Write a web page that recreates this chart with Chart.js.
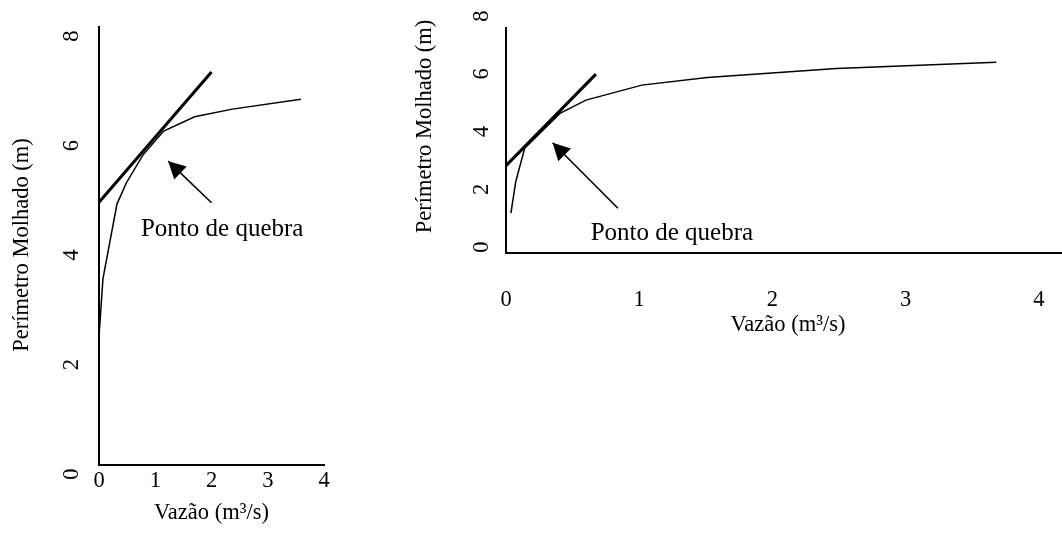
<!DOCTYPE html>
<html>
<head>
<meta charset="utf-8">
<script src="https://cdn.jsdelivr.net/npm/chart.js@4"></script>
<style>
  body { margin: 0; background: #fff; width: 1062px; height: 538px; overflow: hidden; position: relative; }
  canvas { position: absolute; }
  #left { left: 0; top: 0; }
  #right { left: 400px; top: 0; }
</style>
</head>
<body>
<canvas id="left" width="360" height="538"></canvas>
<canvas id="right" width="662" height="340"></canvas>
<script>
// left chart: vazao (m3/s) x perimetro molhado (m)
var leftQ = [0.0, 0.07, 0.32, 0.49, 0.78, 1.15, 1.7, 2.37, 3.59];
var leftP = [2.35, 3.4, 4.77, 5.16, 5.66, 6.1, 6.36, 6.5, 6.68];
var leftTanQ = [0.0, 2.0];
var leftTanP = [4.8, 7.18];
var leftArrowQ = [2.0, 1.23];
var leftArrowP = [4.79, 5.55];
var leftNote = { x: 2.19, y: 4.3 };

// right chart
var rightQ = [0.037, 0.073, 0.14, 0.405, 0.6, 1.02, 1.51, 2.48, 3.68];
var rightP = [1.38, 2.47, 3.63, 4.84, 5.3, 5.82, 6.08, 6.4, 6.61];
var rightTanQ = [0.0, 0.675];
var rightTanP = [3.03, 6.2];
var rightArrowQ = [0.84, 0.35];
var rightArrowP = [1.55, 3.82];
var rightNote = { x: 1.245, y: 0.69 };

var xTicks = [0, 1, 2, 3, 4];
var yTicks = [0, 2, 4, 6, 8];
var noteText = 'Ponto de quebra';
var xTitle = 'Vazão (m³/s)';
var yTitle = 'Perímetro Molhado (m)';

var FONT = '"Liberation Serif", "Times New Roman", serif';

function pts(xs, ys) {
  var out = [];
  for (let i = 0; i < xs.length; i++) {
    out.push({ x: xs[i], y: ys[i] });
  }
  return out;
}

// arrow heads + all the text, placed with the chart's scales
var textLayer = {
  id: 'textLayer',
  afterDatasetsDraw: function (chart, args, opts) {
    var ctx = chart.ctx;
    var xs = chart.scales.x, ys = chart.scales.y;
    var area = chart.chartArea;
    ctx.save();
    ctx.fillStyle = '#000';

    chart.data.datasets.forEach(function (ds, i) {
      if (!ds.arrow) return;
      var meta = chart.getDatasetMeta(i);
      var a = meta.data[0], b = meta.data[1];
      var ang = Math.atan2(b.y - a.y, b.x - a.x);
      var len = 17, half = 9;
      var bx = b.x - len * Math.cos(ang), by = b.y - len * Math.sin(ang);
      ctx.beginPath();
      ctx.moveTo(b.x, b.y);
      ctx.lineTo(bx + half * Math.sin(ang), by - half * Math.cos(ang));
      ctx.lineTo(bx - half * Math.sin(ang), by + half * Math.cos(ang));
      ctx.closePath();
      ctx.fill();
    });

    ctx.font = '22.5px ' + FONT;
    ctx.textAlign = 'center';
    ctx.textBaseline = 'middle';
    xTicks.forEach(function (v) {
      ctx.fillText(String(v), xs.getPixelForValue(v), area.bottom + opts.xTickDy);
    });
    ctx.fillText(xTitle, (area.left + area.right) / 2 + opts.xTitleDx, area.bottom + opts.xTitleDy);

    yTicks.forEach(function (v) {
      ctx.save();
      ctx.translate(area.left + opts.yTickDx, ys.getPixelForValue(v) + opts.yTickDy);
      ctx.rotate(-Math.PI / 2);
      ctx.fillText(String(v), 0, 0);
      ctx.restore();
    });
    ctx.save();
    ctx.translate(area.left + opts.yTitleDx, (area.top + area.bottom) / 2 + opts.yTitleDy);
    ctx.rotate(-Math.PI / 2);
    ctx.fillText(yTitle, 0, 0);
    ctx.restore();

    ctx.font = '25px ' + FONT;
    ctx.fillText(noteText, xs.getPixelForValue(opts.note.x), ys.getPixelForValue(opts.note.y));
    ctx.restore();
  }
};

function makeChart(id, curve, tan, arrow, xMax, yMax, pad, textOpts) {
  var axis = function (max) {
    return {
      type: 'linear',
      min: 0,
      max: max,
      ticks: { display: false, stepSize: 1 },
      grid: { display: false },
      border: { display: true, color: '#000', width: 2 }
    };
  };
  return new Chart(document.getElementById(id), {
    type: 'scatter',
    data: {
      datasets: [
        { data: curve, showLine: true, borderColor: '#000', borderWidth: 1.5, pointRadius: 0, clip: false },
        { data: tan, showLine: true, borderColor: '#000', borderWidth: 3, pointRadius: 0, clip: false },
        { data: arrow, arrow: true, showLine: true, borderColor: '#000', borderWidth: 1.6, pointRadius: 0, clip: false }
      ]
    },
    options: {
      responsive: false,
      animation: false,
      devicePixelRatio: 1,
      layout: { padding: pad },
      plugins: { legend: { display: false }, tooltip: { enabled: false }, textLayer: textOpts },
      scales: { x: axis(xMax), y: axis(yMax) }
    },
    plugins: [textLayer]
  });
}

makeChart('left', pts(leftQ, leftP), pts(leftTanQ, leftTanP), pts(leftArrowQ, leftArrowP),
  4, 8, { left: 91, top: 27, right: 36, bottom: 65 },
  { xTickDy: 16, xTitleDx: 0, xTitleDy: 48, yTickDx: -27, yTickDy: 9, yTitleDx: -77, yTitleDy: -1, note: leftNote });

makeChart('right', pts(rightQ, rightP), pts(rightTanQ, rightTanP), pts(rightArrowQ, rightArrowP),
  4.173, 7.8, { left: 98, top: 28, right: 0, bottom: 79 },
  { xTickDy: 47, xTitleDx: 4, xTitleDy: 72, yTickDx: -24, yTickDy: -6, yTitleDx: -81, yTitleDy: -14, note: rightNote });
</script>
</body>
</html>
